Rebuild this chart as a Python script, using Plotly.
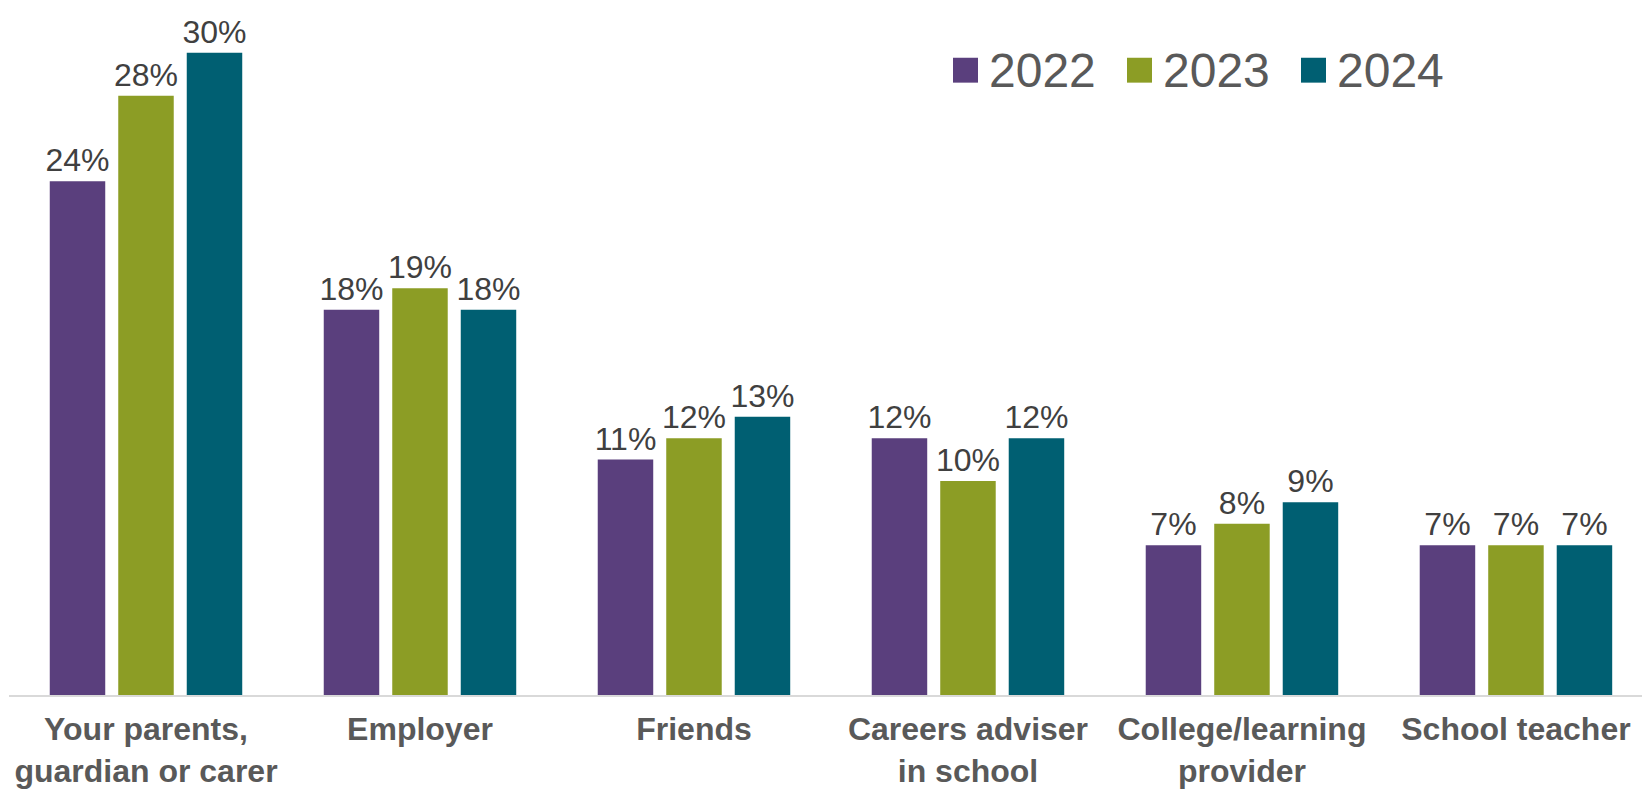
import plotly.graph_objects as go

# Source of careers advice, share of respondents (%)
categories = [
    "Your parents,<br>guardian or carer",
    "Employer",
    "Friends",
    "Careers adviser<br>in school",
    "College/learning<br>provider",
    "School teacher",
]
years = ["2022", "2023", "2024"]
values_2022 = [24, 18, 11, 12, 7, 7]
values_2023 = [28, 19, 12, 10, 8, 7]
values_2024 = [30, 18, 13, 12, 9, 7]
series_values = [values_2022, values_2023, values_2024]
colors = ["#5A3F7D", "#8C9D25", "#005F72"]

W, H = 1642, 789
M_L, M_R, M_T, M_B = 9, 0, 0, 91
FONT = "Arial, Liberation Sans, sans-serif"

fig = go.Figure()
for name, vals, col in zip(years, series_values, colors):
    fig.add_trace(go.Bar(
        x=categories, y=vals, name=name,
        marker=dict(color=col, line=dict(width=0)),
        texttemplate="%{y}%", textposition="outside",
        textfont=dict(size=32, color="#404040", family=FONT),
        constraintext="none", cliponaxis=False, showlegend=False,
    ))

# Legend drawn as square swatches with labels, top right
plot_w = W - M_L - M_R
plot_h = H - M_T - M_B


def px_x(px):
    return (px - M_L) / plot_w


def px_y(py):
    return (H - M_B - py) / plot_h


swatch_left = [953, 1127, 1301]
shapes, annotations = [], []
for name, col, sx in zip(years, colors, swatch_left):
    shapes.append(dict(type="rect", xref="paper", yref="paper",
                       x0=px_x(sx), x1=px_x(sx + 25),
                       y0=px_y(83), y1=px_y(58),
                       fillcolor=col, line=dict(width=0)))
    annotations.append(dict(xref="paper", yref="paper",
                            x=px_x(sx + 34), y=px_y(71),
                            xanchor="left", yanchor="middle",
                            text=name, showarrow=False,
                            font=dict(size=48, color="#595959", family=FONT)))

fig.update_layout(
    width=W, height=H,
    margin=dict(l=M_L, r=M_R, t=M_T, b=M_B),
    paper_bgcolor="white", plot_bgcolor="white",
    barmode="group", bargap=0.25, bargroupgap=0.19,
    font=dict(family=FONT, color="#595959"),
    shapes=shapes, annotations=annotations,
    xaxis=dict(
        range=[-0.5, 5.46],
        showline=True, linecolor="#D9D9D9", linewidth=2,
        showgrid=False, zeroline=False, ticks="",
        ticklabelstandoff=5,
        tickfont=dict(size=32, color="#595959", family=FONT, weight="bold"),
    ),
    yaxis=dict(range=[0, 32.47], visible=False, showgrid=False, zeroline=False),
)

fig.write_html("out.html")
